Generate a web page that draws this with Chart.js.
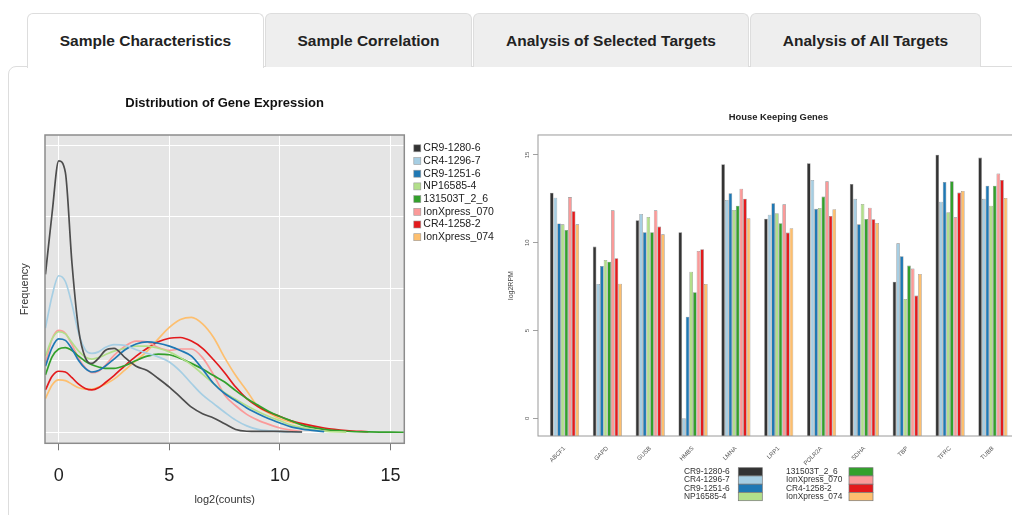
<!DOCTYPE html>
<html>
<head>
<meta charset="utf-8">
<script src="https://cdn.jsdelivr.net/npm/chart.js@4.4.1/dist/chart.umd.min.js"></script>
<style>
body { margin: 0; width: 1012px; height: 515px; overflow: hidden; background: #fff; position: relative;
       font-family: "Liberation Sans", Arial, sans-serif; }
.panel { position: absolute; left: 8px; top: 66px; width: 1040px; height: 480px; border: 1px solid #ddd;
         border-radius: 8px 0 0 0; box-sizing: border-box; }
.tab { position: absolute; top: 13px; height: 54px; line-height: 53px; text-align: center; background: #eee;
       border: 1px solid #ddd; border-bottom: none; border-radius: 6px 6px 0 0; box-sizing: border-box;
       font-weight: bold; font-size: 15.5px; color: #222; }
.tab.active { background: #fff; height: 55px; z-index: 2; }
#densityBox { position: absolute; left: 0; top: 80px; width: 510px; height: 435px; }
#barBox { position: absolute; left: 500px; top: 80px; width: 545px; height: 435px; }
</style>
</head>
<body>
<div class="panel"></div>
<div class="tab active" style="left:27px;width:237px">Sample Characteristics</div>
<div class="tab" style="left:265px;width:207px">Sample Correlation</div>
<div class="tab" style="left:473px;width:276px">Analysis of Selected Targets</div>
<div class="tab" style="left:750px;width:231px">Analysis of All Targets</div>

<div id="densityBox"><canvas id="densityChart" width="510" height="435"></canvas></div>
<div id="barBox"><canvas id="barChart" width="545" height="435"></canvas></div>

<script>
// samples shown in both plots
var samples = ['CR9-1280-6', 'CR4-1296-7', 'CR9-1251-6', 'NP16585-4',
               '131503T_2_6', 'IonXpress_070', 'CR4-1258-2', 'IonXpress_074'];
var sampleColors = ['#333333', '#a6cee3', '#1f78b4', '#b2df8a', '#33a02c', '#fb9a99', '#e31a1c', '#fdbf6f'];
var lineColors = ['#4d4d4d', '#a6cee3', '#1f78b4', '#b2df8a', '#33a02c', '#fb9a99', '#e31a1c', '#fdbf6f'];

// density curves (x = log2(counts))
var log2Counts = [-0.6, -0.3, 0, 0.3, 0.6, 0.9, 1.2, 1.5, 1.8, 2.1, 2.5, 3, 3.5, 4, 4.5, 5, 5.5,
                  6, 6.5, 7, 7.5, 8, 8.5, 9, 9.5, 10, 10.5, 11, 12, 13, 14, 15, 15.6];
var densCR9_1280_6 = [0.22, 0.305, 0.378, 0.362, 0.235, 0.143, 0.104, 0.096, 0.103, 0.114, 0.117, 0.104, 0.092,
                      0.086, 0.075, 0.063, 0.049, 0.035, 0.026, 0.020, 0.012, 0.004, 0.0015, 0.0012, 0.0013,
                      0.0012, 0.0008, 0.0004, null, null, null, null, null];
var densCR4_1296_7 = [0.145, 0.19, 0.218, 0.21, 0.178, 0.138, 0.115, 0.110, 0.112, 0.118, 0.122, 0.121, 0.115,
                      0.11, 0.105, 0.098, 0.085, 0.068, 0.052, 0.040, 0.028, 0.017, 0.009, 0.004, 0.002,
                      0.001, 0.0005, 0.0002, null, null, null, null, null];
var densCR9_1251_6 = [0.092, 0.118, 0.13, 0.128, 0.116, 0.10, 0.089, 0.084, 0.086, 0.092, 0.102, 0.115, 0.123,
                      0.126, 0.124, 0.120, 0.114, 0.106, 0.088, 0.068, 0.054, 0.044, 0.034, 0.026, 0.019,
                      0.013, 0.0075, 0.0045, 0.001, null, null, null, null];
var densNP16585_4 = [0.106, 0.13, 0.14, 0.137, 0.125, 0.113, 0.105, 0.102, 0.104, 0.108, 0.113, 0.117, 0.12,
                     0.12, 0.117, 0.112, 0.104, 0.094, 0.081, 0.068, 0.055, 0.046, 0.037, 0.029, 0.022,
                     0.016, 0.010, 0.0065, 0.0015, 0.0003, null, null, null];
var dens131503T_2_6 = [0.08, 0.105, 0.116, 0.118, 0.114, 0.106, 0.099, 0.094, 0.091, 0.089, 0.089, 0.093, 0.1,
                       0.106, 0.109, 0.108, 0.103, 0.096, 0.088, 0.079, 0.07, 0.058, 0.047, 0.038, 0.029,
                       0.022, 0.016, 0.010, 0.004, 0.0015, 0.0005, 0.0002, 0.0001];
var densIonXpress_070 = [0.096, 0.13, 0.142, 0.138, 0.122, 0.103, 0.09, 0.083, 0.085, 0.093, 0.107, 0.12, 0.127,
                         0.126, 0.118, 0.114, 0.116, 0.116, 0.104, 0.08, 0.052, 0.037, 0.025, 0.017, 0.011,
                         0.006, 0.003, 0.001, null, null, null, null, null];
var densCR4_1258_2 = [0.059, 0.078, 0.085, 0.084, 0.076, 0.067, 0.061, 0.059, 0.062, 0.069, 0.079, 0.093, 0.106,
                      0.117, 0.126, 0.131, 0.132, 0.127, 0.117, 0.101, 0.083, 0.063, 0.047, 0.036, 0.028,
                      0.022, 0.016, 0.012, 0.006, 0.0025, 0.0008, null, null];
var densIonXpress_074 = [0.047, 0.066, 0.073, 0.072, 0.067, 0.062, 0.06, 0.06, 0.063, 0.067, 0.074, 0.087, 0.1,
                         0.113, 0.13, 0.146, 0.157, 0.16, 0.151, 0.132, 0.104, 0.079, 0.058, 0.036, 0.027,
                         0.019, 0.014, 0.011, 0.004, 0.001, null, null, null];
var countTicks = [0, 5, 10, 15];
var densityGrid = [0, 0.1, 0.2, 0.3, 0.4];

// house keeping genes, log2RPM per sample
var genes = ['ABCF1', 'GAPD', 'GUSB', 'HMBS', 'LMNA', 'LRP1', 'POLR2A', 'SDHA', 'TBP', 'TFRC', 'TUBB'];
var rpmCR9_1280_6 = [12.85, 9.78, 11.28, 10.6, 14.47, 11.37, 14.53, 13.35, 7.78, 15.02, 14.85];
var rpmCR4_1296_7 = [12.57, 7.65, 11.64, 0, 12.44, 11.6, 13.58, 12.5, 9.97, 12.34, 12.5];
var rpmCR9_1251_6 = [11.1, 8.68, 10.6, 5.79, 12.82, 12.25, 11.93, 11.05, 9.23, 13.46, 13.25];
var rpmNP16585_4 = [11.05, 9.02, 11.47, 8.35, 11.87, 11.68, 11.98, 12.21, 6.8, 11.74, 12.11];
var rpm131503T_2_6 = [10.73, 8.92, 10.6, 7.18, 12.11, 11.11, 12.63, 11.36, 8.7, 13.5, 13.25];
var rpmIonXpress_070 = [12.6, 11.85, 11.85, 9.53, 13.08, 12.19, 13.5, 12.0, 8.53, 11.45, 13.94];
var rpmCR4_1258_2 = [11.8, 9.12, 10.92, 9.63, 12.51, 10.58, 11.53, 11.34, 6.99, 12.86, 13.58];
var rpmIonXpress_074 = [11.05, 7.67, 10.48, 7.65, 11.4, 10.83, 11.91, 11.13, 8.22, 12.95, 12.55];
var rpmTicks = [0, 5, 10, 15];

var densities = [densCR9_1280_6, densCR4_1296_7, densCR9_1251_6, densNP16585_4,
                 dens131503T_2_6, densIonXpress_070, densCR4_1258_2, densIonXpress_074];
var rpms = [rpmCR9_1280_6, rpmCR4_1296_7, rpmCR9_1251_6, rpmNP16585_4,
            rpm131503T_2_6, rpmIonXpress_070, rpmCR4_1258_2, rpmIonXpress_074];

var FONT = '"Liberation Sans", Arial, sans-serif';
Chart.defaults.font.family = FONT;
Chart.defaults.animation = false;


// grey panel behind the density plot, and the box around it
var plotFrame = {
    id: 'plotFrame',
    beforeDraw: function (chart, args, opts) {
        var a = chart.chartArea;
        if (!opts.fill) return;
        chart.ctx.save();
        chart.ctx.fillStyle = opts.fill;
        chart.ctx.fillRect(a.left, a.top, a.right - a.left, a.bottom - a.top);
        chart.ctx.restore();
    },
    afterDraw: function (chart, args, opts) {
        var a = chart.chartArea;
        var ctx = chart.ctx;
        ctx.save();
        ctx.strokeStyle = opts.stroke;
        ctx.lineWidth = opts.width;
        ctx.strokeRect(a.left, a.top, a.right - a.left, a.bottom - a.top);
        ctx.restore();
    }
};

// legend beside the density plot
var densityLegend = {
    id: 'densityLegend',
    afterDraw: function (chart) {
        var a = chart.chartArea;
        var ctx = chart.ctx;
        ctx.save();
        ctx.font = '10.5px ' + FONT;
        ctx.textBaseline = 'middle';
        for (var i = 0; i < chart.data.datasets.length; ++i) {
            var y = a.top + 13.3 + i * 12.7;
            ctx.fillStyle = sampleColors[i];
            ctx.fillRect(a.right + 9.5, y - 3.5, 7, 7);
            ctx.strokeStyle = '#999';
            ctx.lineWidth = 0.6;
            ctx.strokeRect(a.right + 9.5, y - 3.5, 7, 7);
            ctx.fillStyle = '#222';
            ctx.fillText(chart.data.datasets[i].label, a.right + 19, y);
        }
        ctx.restore();
    }
};

// two column legend below the bar chart
var barLegend = {
    id: 'barLegend',
    afterDraw: function (chart) {
        var a = chart.chartArea;
        var ctx = chart.ctx;
        var rowH = 8.25;
        var top = a.bottom + 31.7;
        ctx.save();
        ctx.font = '8.4px ' + FONT;
        ctx.textBaseline = 'middle';
        for (var i = 0; i < chart.data.datasets.length; ++i) {
            var col = Math.floor(i / 4);
            var row = i % 4;
            var textX = a.left + (col == 0 ? 146 : 248);
            var boxX = a.left + (col == 0 ? 200.3 : 311);
            var y = top + row * rowH;
            ctx.fillStyle = sampleColors[i];
            ctx.fillRect(boxX, y, 24, rowH);
            ctx.strokeStyle = '#777';
            ctx.lineWidth = 0.7;
            ctx.strokeRect(boxX, y, 24, rowH);
            ctx.fillStyle = '#333';
            ctx.fillText(chart.data.datasets[i].label, textX, y + rowH / 2);
        }
        ctx.restore();
    }
};


// density of gene expression
var densityDatasets = [];
for (var i = 0; i < samples.length; ++i) {
    densityDatasets.push({
        label: samples[i],
        data: densities[i],
        borderColor: lineColors[i],
        borderWidth: 1.7,
        pointRadius: 0,
        cubicInterpolationMode: 'monotone',
        spanGaps: false
    });
}

new Chart(document.getElementById('densityChart'), {
    type: 'line',
    data: { labels: log2Counts, datasets: densityDatasets },
    options: {
        responsive: false,
        layout: { padding: { left: 0, right: 105.7, top: 0, bottom: 0 } },
        scales: {
            x: {
                type: 'linear',
                min: -0.62,
                max: 15.62,
                afterBuildTicks: function (scale) {
                    scale.ticks = countTicks.map(function (v) { return {value: v}; });
                },
                afterFit: function (scale) { scale.height = 71.7; },
                grid: { color: '#ffffff', lineWidth: 1, tickColor: '#777', tickLength: 7, tickWidth: 1 },
                border: { display: false },
                ticks: { font: { size: 18 }, color: '#222', padding: 15, maxRotation: 0 },
                title: { display: true, text: 'log2(counts)', font: { size: 11 }, color: '#333',
                         padding: { top: 0, bottom: 8.4 } }
            },
            y: {
                min: -0.0153,
                max: 0.414,
                afterBuildTicks: function (scale) {
                    scale.ticks = densityGrid.map(function (v) { return {value: v}; });
                },
                afterFit: function (scale) { scale.width = 45; },
                grid: { color: '#ffffff', lineWidth: 1, drawTicks: false },
                border: { display: false },
                ticks: { display: false },
                title: { display: true, text: 'Frequency', font: { size: 11 }, color: '#333',
                         padding: { top: 18.4, bottom: 0 } }
            }
        },
        plugins: {
            legend: { display: false },
            tooltip: { enabled: false },
            title: {
                display: true,
                fullSize: false,
                text: 'Distribution of Gene Expression',
                font: { size: 13, weight: 'bold' },
                color: '#111',
                padding: { top: 15.2, bottom: 24.2 }
            },
            plotFrame: { fill: '#e5e5e5', stroke: '#8c8c8c', width: 1.5 }
        }
    },
    plugins: [plotFrame, densityLegend]
});


// house keeping genes bar chart
var barDatasets = [];
for (var i = 0; i < samples.length; ++i) {
    barDatasets.push({
        label: samples[i],
        data: rpms[i].map(function (v, g) { return {x: g, y: v}; }),
        backgroundColor: sampleColors[i],
        borderColor: 'rgba(90,90,90,0.75)',
        borderWidth: 0.6,
        base: -1.01,
        barPercentage: 1.0,
        categoryPercentage: 0.68
    });
}

new Chart(document.getElementById('barChart'), {
    type: 'bar',
    data: { datasets: barDatasets },
    options: {
        responsive: false,
        layout: { padding: { left: 0, right: 26, top: 0, bottom: 0 } },
        scales: {
            x: {
                type: 'linear',
                offset: false,
                min: -0.619,
                max: 10.61,
                afterBuildTicks: function (scale) {
                    scale.ticks = genes.map(function (g, k) { return {value: k}; });
                },
                afterFit: function (scale) { scale.height = 79; },
                grid: { display: false, offset: false },
                border: { display: false },
                ticks: {
                    font: { size: 6 },
                    color: '#555',
                    padding: 1,
                    minRotation: 45,
                    maxRotation: 45,
                    autoSkip: false,
                    callback: function (v) { return genes[v]; }
                }
            },
            y: {
                min: -1.01,
                max: 16.14,
                afterBuildTicks: function (scale) {
                    scale.ticks = rpmTicks.map(function (v) { return {value: v}; });
                },
                afterFit: function (scale) { scale.width = 38; },
                grid: { drawOnChartArea: false, tickColor: '#888', tickLength: 5, tickWidth: 0.8 },
                border: { display: false },
                ticks: { font: { size: 6 }, color: '#555', padding: 2.5, minRotation: 90, maxRotation: 90,
                         crossAlign: 'center' },
                title: { display: true, text: 'log2RPM', font: { size: 7 }, color: '#444',
                         padding: { top: 6.8, bottom: 0 } }
            }
        },
        plugins: {
            legend: { display: false },
            tooltip: { enabled: false },
            title: {
                display: true,
                fullSize: false,
                text: 'House Keeping Genes',
                font: { size: 9.4, weight: 'bold' },
                color: '#222',
                padding: { top: 31.4, bottom: 12.3 }
            },
            plotFrame: { fill: null, stroke: '#9a9a9a', width: 1 }
        }
    },
    plugins: [plotFrame, barLegend]
});
</script>
</body>
</html>
